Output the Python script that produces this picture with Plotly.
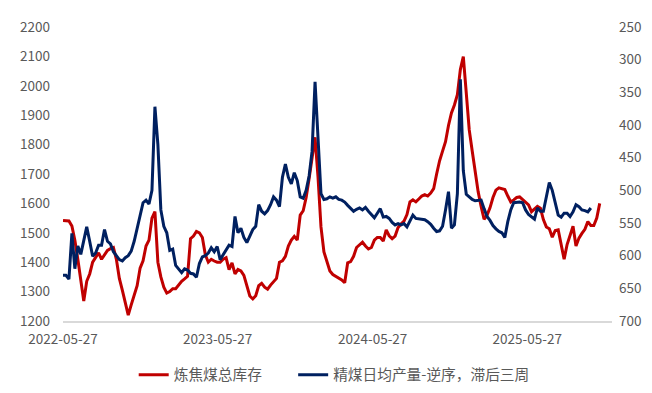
import pandas as pd
import plotly.graph_objects as go

start_date = "2022-05-27"

# 炼焦煤总库存 (left axis), weekly
inventory = [
    1542, 1540, 1540, 1523, 1475, 1410, 1340, 1268, 1335, 1360,
    1400, 1415, 1432, 1410, 1425, 1440, 1446, 1450, 1410, 1345,
    1305, 1262, 1220, 1255, 1285, 1320, 1380, 1405, 1455, 1475,
    1550, 1572, 1400, 1350, 1315, 1295, 1300, 1310, 1310, 1322,
    1335, 1343, 1352, 1480, 1489, 1505, 1500, 1484, 1425, 1400,
    1410, 1404, 1400, 1400, 1410, 1415, 1375, 1398, 1360, 1375,
    1370, 1355, 1320, 1285, 1275, 1286, 1320, 1328, 1315, 1308,
    1322, 1335, 1345, 1400, 1405, 1420, 1455, 1475, 1488, 1475,
    1560, 1575, 1620, 1685, 1760, 1825, 1690, 1520, 1435, 1402,
    1370, 1358, 1352, 1345, 1340, 1330, 1398, 1402, 1420, 1450,
    1460, 1468, 1455, 1445, 1450, 1475, 1484, 1484, 1472, 1510,
    1490, 1480, 1489, 1518, 1530, 1540, 1562, 1605, 1612, 1605,
    1615, 1625, 1630, 1625, 1635, 1650, 1700, 1745, 1778, 1810,
    1865, 1908, 1935, 1970, 2055, 2099, 1975, 1850, 1778, 1704,
    1640, 1590, 1546, 1560, 1585, 1620, 1645, 1653, 1650, 1647,
    1625, 1605, 1612, 1620, 1622, 1612, 1605, 1595, 1572, 1582,
    1590, 1584, 1545, 1520, 1514, 1485, 1508, 1510, 1460, 1410,
    1460, 1495, 1522, 1455, 1482, 1498, 1512, 1538, 1525, 1525,
    1550, 1600,
]

# 精煤日均产量-逆序，滞后三周 (right axis, reversed), weekly
output = [
    630, 630, 636, 566, 620, 585, 598, 578, 556, 578,
    601, 596, 584, 584, 560, 578, 582, 594, 600, 606,
    608, 603, 600, 593, 578, 558, 535, 519, 515, 521,
    500, 372, 430, 530, 555, 565, 592, 590, 615, 621,
    626, 620, 622, 627, 628, 633, 612, 602, 600, 596,
    588, 594, 586, 606, 598, 590, 584, 586, 540, 565,
    558, 572, 580, 570, 560, 555, 522, 532, 536, 531,
    522, 510, 515, 525, 480, 460, 480, 490, 473, 485,
    510, 512, 500, 478, 440, 334, 420, 505, 514, 513,
    510, 512, 510, 514, 515, 518, 523, 527, 532, 529,
    527, 530, 526, 532, 537, 542, 535, 528, 541, 540,
    543, 549, 553, 551, 553, 551, 556, 548, 538, 543,
    544, 545, 545, 548, 552, 558, 563, 562, 555, 530,
    502, 558, 553, 505, 330, 470, 506, 510, 514, 516,
    516, 515, 528, 540, 546, 554, 559, 563, 565, 572,
    548, 530, 519, 518, 518, 519, 530, 537, 541, 544,
    527, 532, 532, 510, 488, 500, 520, 538, 541, 535,
    535, 540, 533, 522, 525, 530, 531, 533, 527,
]

tick_labels = ["2022-05-27", "2023-05-27", "2024-05-27", "2025-05-27"]

dates_inv = pd.date_range(start_date, periods=len(inventory), freq="7D")
dates_out = pd.date_range(start_date, periods=len(output), freq="7D")

RED = "#C00000"
BLUE = "#002060"
GRAY = "#595959"
FONT = "Noto Sans CJK SC, Liberation Sans, sans-serif"
NB = "\u00a0"

fig = go.Figure()
fig.add_trace(go.Scatter(
    x=dates_inv, y=inventory, name="炼焦煤总库存" + NB * 8, mode="lines",
    line=dict(color=RED, width=3), yaxis="y",
))
fig.add_trace(go.Scatter(
    x=dates_out, y=output, name="精煤日均产量-逆序，滞后三周", mode="lines",
    line=dict(color=BLUE, width=3), yaxis="y2",
))

# page body has an 8px default margin on every side, so the figure is sized to fit 652x393
fig.update_layout(
    width=636, height=377,
    margin=dict(l=55, r=32, t=19, b=64),
    paper_bgcolor="white", plot_bgcolor="white",
    font=dict(family=FONT, size=13, color=GRAY),
    showlegend=True,
    legend=dict(
        orientation="h", x=0.494, xanchor="center",
        yref="container", y=0.026, yanchor="middle",
        font=dict(size=14.7, color=GRAY), itemwidth=30,
        bgcolor="rgba(0,0,0,0)",
    ),
    xaxis=dict(
        type="date", automargin=False,
        range=["2022-05-27", "2025-12-13"],
        tickvals=tick_labels, ticktext=tick_labels,
        showgrid=False, zeroline=False,
        showline=True, linecolor="#D9D9D9", linewidth=1.5,
        ticks="", ticklabelstandoff=5, tickfont=dict(size=13.5, color=GRAY),
    ),
    yaxis=dict(
        range=[1200, 2200], dtick=100, automargin=False,
        showgrid=False, zeroline=False, showline=False,
        ticks="", ticklabelstandoff=12, tickfont=dict(size=13.5, color=GRAY),
    ),
    yaxis2=dict(
        range=[700, 250], dtick=50, overlaying="y", side="right",
        automargin=False,
        showgrid=False, zeroline=False, showline=False,
        ticks="", ticklabelstandoff=6, tickfont=dict(size=13.5, color=GRAY),
    ),
)

fig.write_html("out.html")
